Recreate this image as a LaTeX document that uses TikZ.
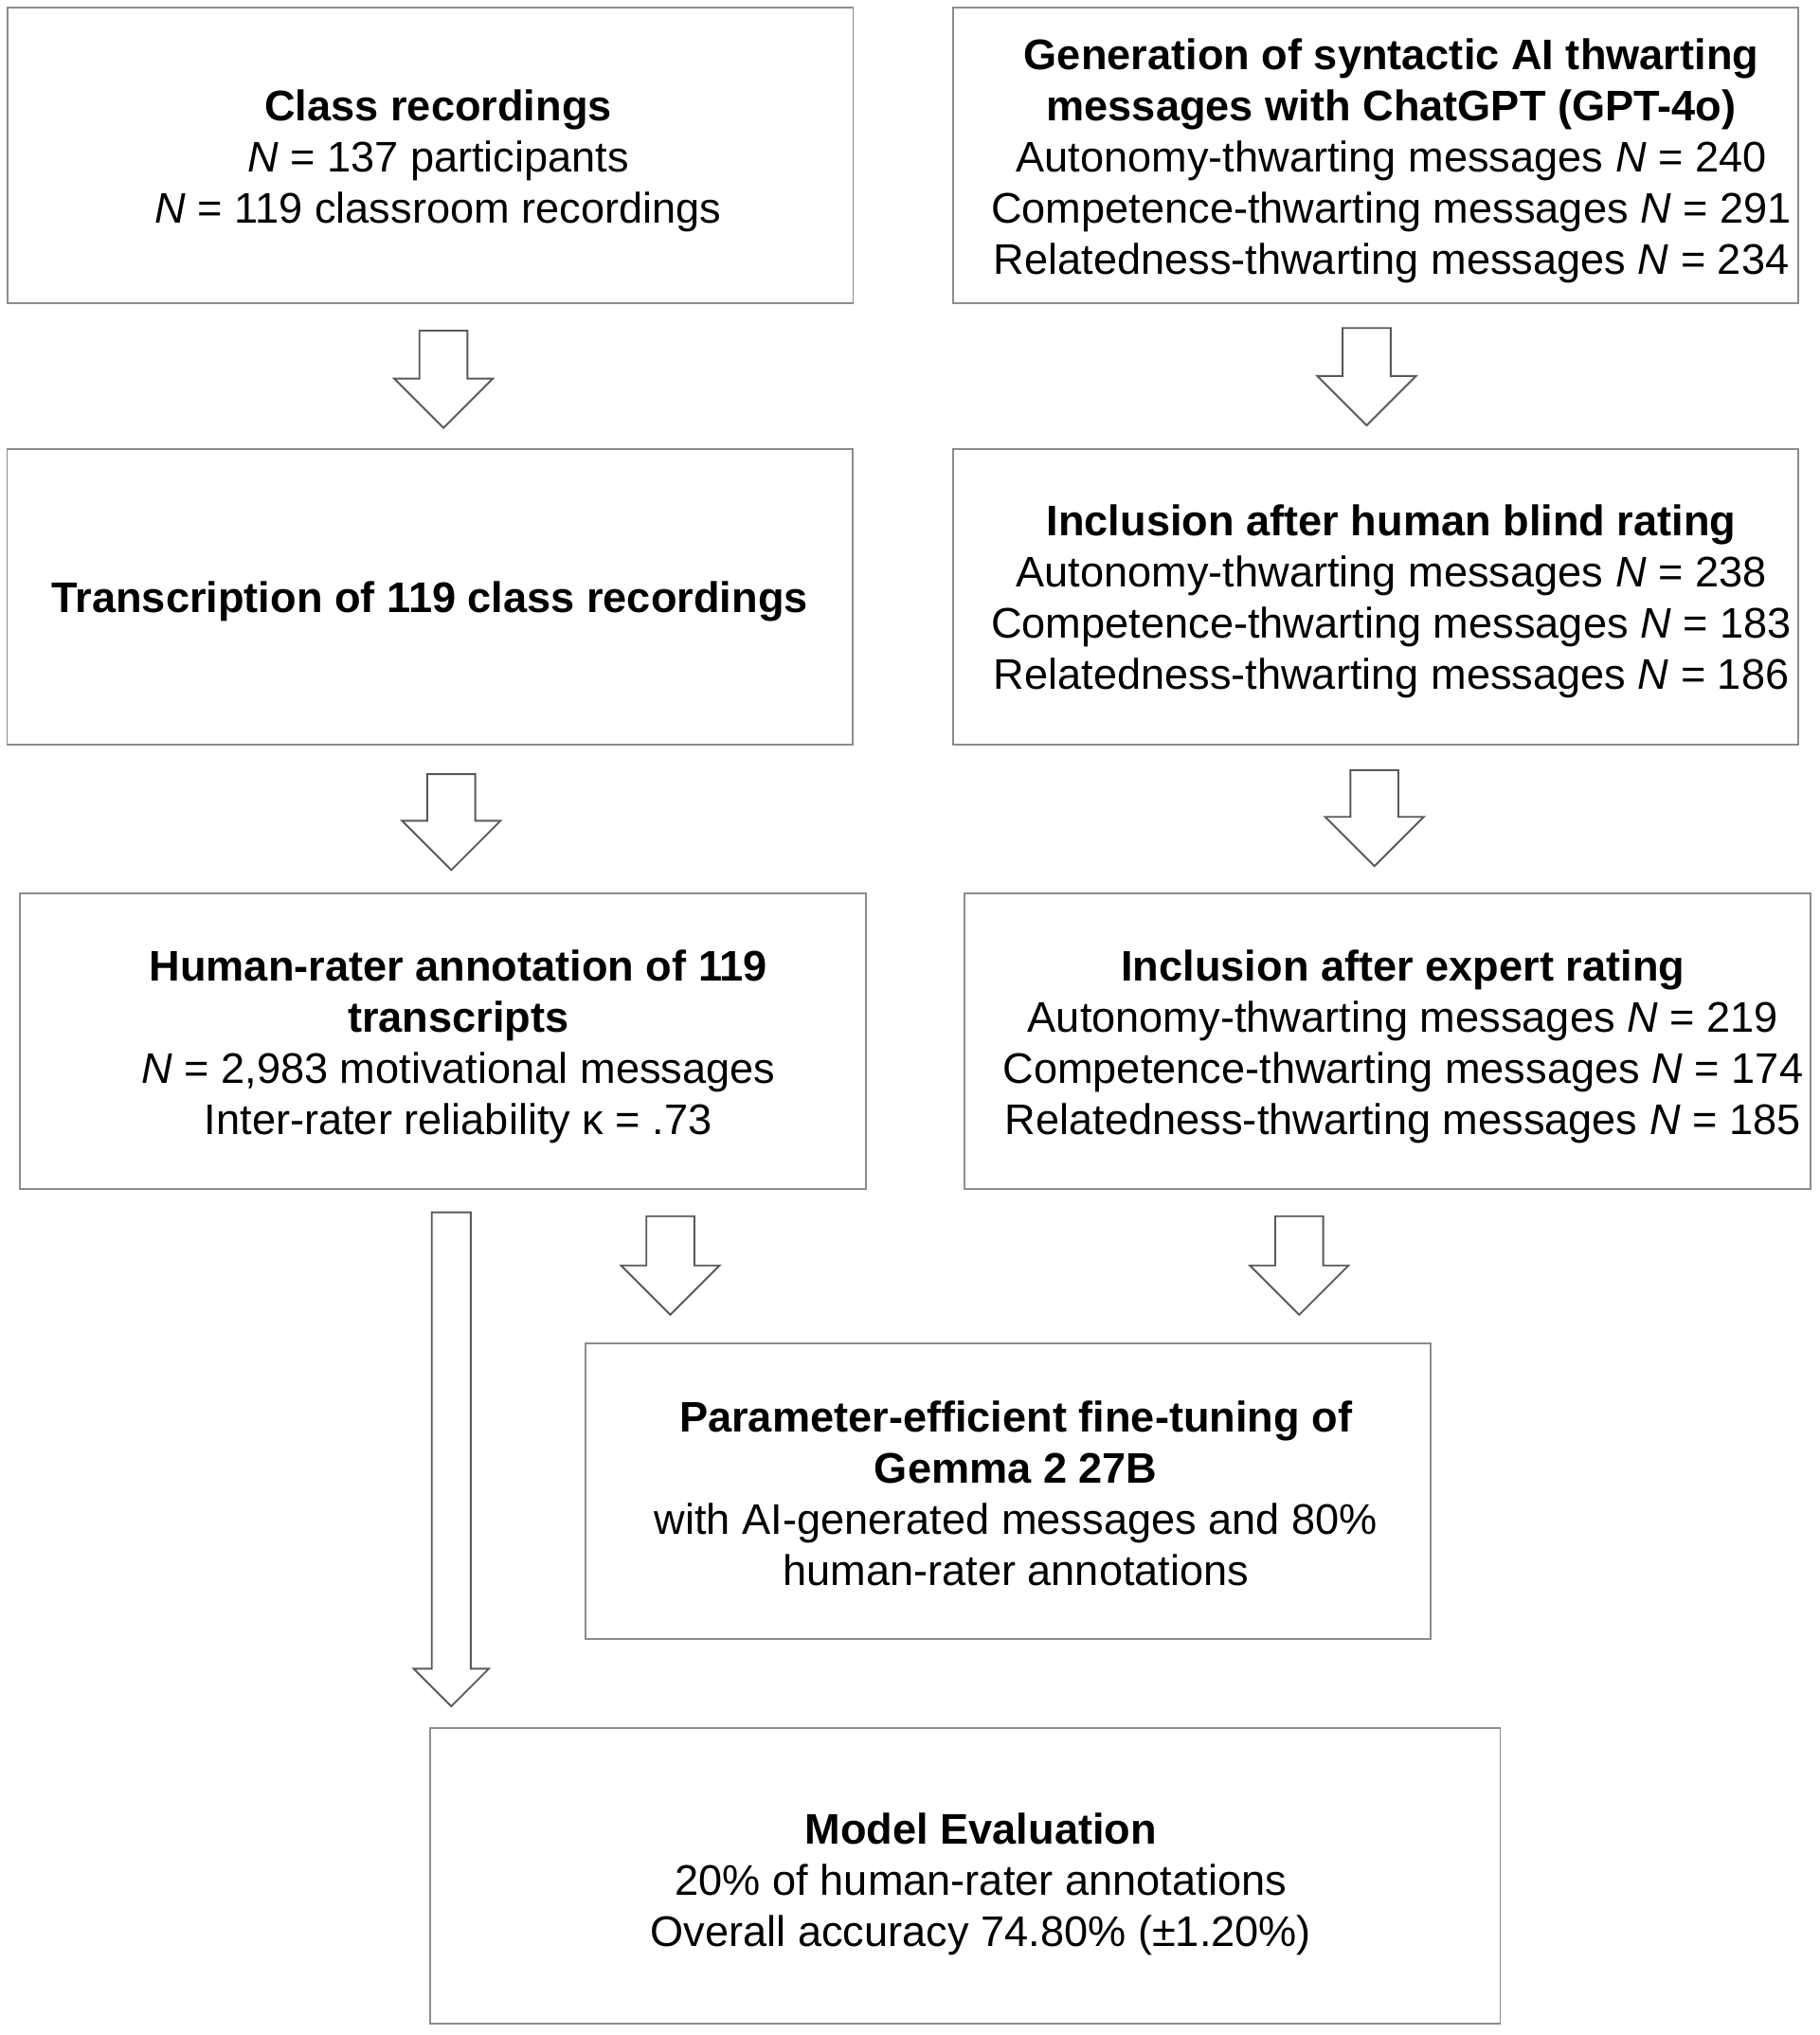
\documentclass[tikz,border=0pt]{standalone}
\usepackage{fontspec}
\setmainfont{Liberation Sans}

% one unit = one pixel of the layout grid, y going down
\tikzset{
  flowbox/.style={draw=black!45, line width=0.7pt, fill=white,
    inner sep=0pt, minimum width=326pt, minimum height=114pt},
  boxtext/.style={align=center, inner sep=0pt, yshift=-2pt,
    font=\fontsize{16.5}{19.75}\selectfont},
  arrowline/.style={draw=black!65, line width=0.7pt, fill=white, line join=miter}
}

% block arrow: x, top, tip, half shaft, half head (= head length)
\newcommand{\fatarrow}[5]{%
  \draw[arrowline] (#1-#4,#2) -- (#1+#4,#2) -- (#1+#4,#3-#5) -- (#1+#5,#3-#5)
    -- (#1,#3) -- (#1-#5,#3-#5) -- (#1-#4,#3-#5) -- cycle;}

\begin{document}
\begin{tikzpicture}[x=0.5pt, y=-0.5pt]
  \fill[white] (0,0) rectangle (1403,1569.5);
  \useasboundingbox (0,0) rectangle (1403,1569.5);

  % left column
  \node[flowbox, label={[boxtext, xshift=3pt]center:{\textbf{Class recordings}\\
    \textit{N} = 137 participants\\
    \textit{N} = 119 classroom recordings}}] (cls) at (332,120) {};
  \node[flowbox, label={[boxtext]center:{\textbf{Transcription of 119 class recordings}}}]
    (trans) at (331.5,460) {};
  \node[flowbox, label={[boxtext, xshift=6pt]center:{\textbf{Human-rater annotation of 119}\\
    \textbf{transcripts}\\
    \textit{N} = 2,983 motivational messages\\
    Inter-rater reliability κ = .73}}] (human) at (341.5,803) {};

  % right column
  \node[flowbox, label={[boxtext, xshift=6pt]center:{\textbf{Generation of syntactic AI thwarting}\\
    \textbf{messages with ChatGPT (GPT-4o)}\\
    Autonomy-thwarting messages \textit{N} = 240\\
    Competence-thwarting messages \textit{N} = 291\\
    Relatedness-thwarting messages \textit{N} = 234}}] (gen) at (1061,120) {};
  \node[flowbox, label={[boxtext, xshift=6pt]center:{\textbf{Inclusion after human blind rating}\\
    Autonomy-thwarting messages \textit{N} = 238\\
    Competence-thwarting messages \textit{N} = 183\\
    Relatedness-thwarting messages \textit{N} = 186}}] (blind) at (1061,460) {};
  \node[flowbox, label={[boxtext, xshift=6pt]center:{\textbf{Inclusion after expert rating}\\
    Autonomy-thwarting messages \textit{N} = 219\\
    Competence-thwarting messages \textit{N} = 174\\
    Relatedness-thwarting messages \textit{N} = 185}}] (expert) at (1070,803) {};

  % bottom
  \node[flowbox, label={[boxtext, xshift=3pt, yshift=1pt]center:{\textbf{Parameter-efficient fine-tuning of}\\
    \textbf{Gemma 2 27B}\\
    with AI-generated messages and 80\%\\
    human-rater annotations}}] (tune) at (777.5,1150) {};
  \node[flowbox, minimum width=412.5pt, label={[boxtext, xshift=6pt, yshift=-1pt]center:{\textbf{Model Evaluation}\\
    20\% of human-rater annotations\\
    Overall accuracy 74.80\% (±1.20\%)}}] (eval) at (744.5,1447) {};

  % arrows
  \fatarrow{342}{255}{330}{18.5}{38}
  \fatarrow{1054}{253}{328}{18.5}{38}
  \fatarrow{348}{597}{671}{18.5}{38}
  \fatarrow{1060}{594}{668}{18.5}{38}
  \fatarrow{348}{935}{1316}{15}{29}
  \fatarrow{517}{938}{1014}{18.5}{38}
  \fatarrow{1002}{938}{1014}{18.5}{38}
\end{tikzpicture}
\end{document}
